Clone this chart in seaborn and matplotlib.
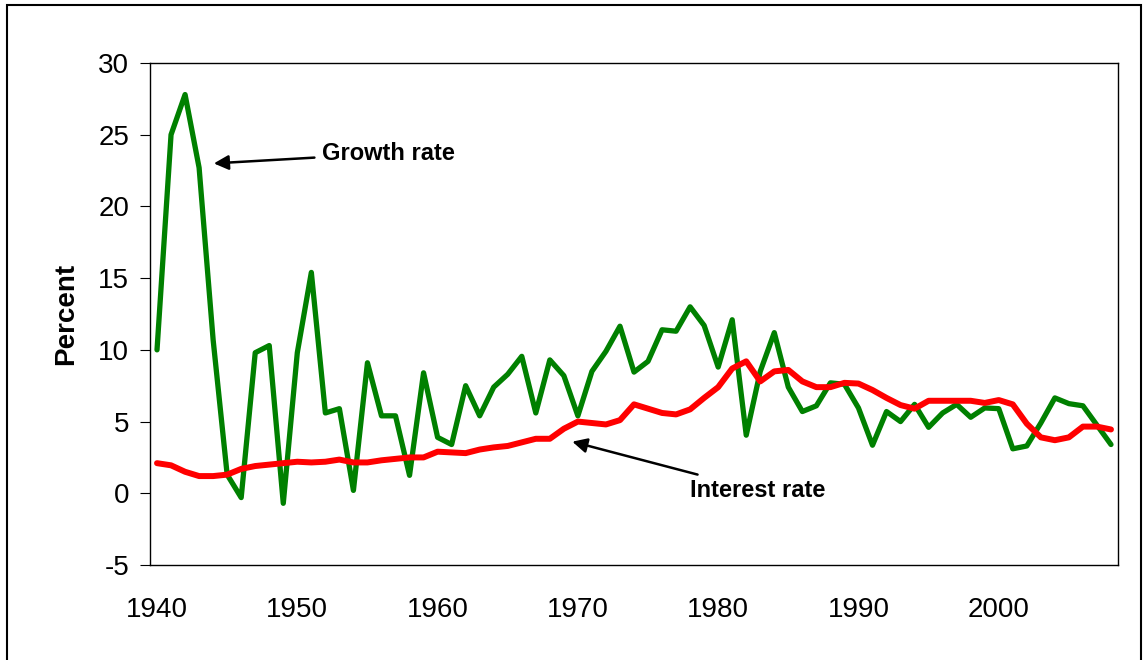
import matplotlib
matplotlib.use('Agg')
import matplotlib.pyplot as plt
import seaborn as sns
import pandas as pd
import numpy as np
from matplotlib.patches import Rectangle

years = list(range(1940, 2009))

growth_rate = [10.0, 25.0, 27.8, 22.7, 10.7, 1.3, -0.3, 9.8, 10.3, -0.7,
               9.8, 15.4, 5.6, 5.9, 0.2, 9.1, 5.4, 5.4, 1.25, 8.4,
               3.9, 3.4, 7.5, 5.4, 7.4, 8.3, 9.55, 5.6, 9.3, 8.2,
               5.4, 8.5, 9.9, 11.65, 8.45, 9.2, 11.4, 11.3, 13.0, 11.7,
               8.8, 12.1, 4.05, 8.5, 11.2, 7.4, 5.7, 6.1, 7.7, 7.6,
               5.95, 3.35, 5.7, 5.0, 6.2, 4.6, 5.6, 6.2, 5.3, 5.95,
               5.9, 3.1, 3.3, 4.9, 6.65, 6.25, 6.1, 4.75, 3.4]

interest_rate = [2.1, 1.95, 1.5, 1.2, 1.2, 1.3, 1.7, 1.9, 2.0, 2.1,
                 2.2, 2.15, 2.2, 2.35, 2.15, 2.15, 2.3, 2.4, 2.5, 2.5,
                 2.9, 2.85, 2.8, 3.05, 3.2, 3.3, 3.55, 3.8, 3.8, 4.5,
                 5.0, 4.9, 4.8, 5.1, 6.2, 5.9, 5.6, 5.5, 5.85, 6.65,
                 7.4, 8.7, 9.2, 7.8, 8.5, 8.6, 7.8, 7.4, 7.4, 7.7,
                 7.65, 7.2, 6.65, 6.15, 5.9, 6.45, 6.45, 6.45, 6.45, 6.3,
                 6.5, 6.2, 4.85, 3.9, 3.7, 3.9, 4.65, 4.65, 4.45]

decade_labels = ['1940', '1950', '1960', '1970', '1980', '1990', '2000']

df = pd.DataFrame({'Year': years, 'Growth': growth_rate, 'Interest': interest_rate})

sns.set_style('white')
plt.rcParams['font.family'] = ['Liberation Sans', 'DejaVu Sans']
plt.rcParams['axes.unicode_minus'] = False
plt.rcParams['text.color'] = 'black'
plt.rcParams['axes.labelcolor'] = 'black'
plt.rcParams['xtick.color'] = 'black'
plt.rcParams['ytick.color'] = 'black'

fig = plt.figure(figsize=(11.48, 6.6), dpi=100)
ax = fig.add_axes([150/1148, 1 - 565/660, 968/1148, 502/660])

sns.lineplot(data=df, x='Year', y='Growth', ax=ax, color='#008000', linewidth=3.8)
sns.lineplot(data=df, x='Year', y='Interest', ax=ax, color='#ff0000', linewidth=4.3,
             solid_joinstyle='round')

ax.set_xlim(1939.5, 2008.5)
ax.set_ylim(-5, 30)
ax.set_yticks(np.arange(-5, 31, 5))
ax.set_xticks([int(l) for l in decade_labels])
ax.set_xticklabels(decade_labels)
ax.set_xticks(np.arange(1939.5, 2009, 1), minor=True)
ax.tick_params(axis='x', which='major', length=0, pad=23, labelsize=20)
ax.tick_params(axis='x', which='minor', length=5, width=0.8, direction='out', color='#333333')
ax.tick_params(axis='y', which='major', length=7, width=0.8, direction='out', pad=8,
               labelsize=20, left=True)
ax.set_xlabel('')
ax.set_ylabel('Percent', fontsize=20, fontweight='bold', labelpad=14)
for s in ax.spines.values():
    s.set_color('black')
    s.set_linewidth(1.0)

ax.annotate('Growth rate', xy=(1944.05, 23.0), xytext=(1951.75, 23.7),
            fontsize=17, fontweight='bold', va='center', ha='left',
            arrowprops=dict(arrowstyle='-|>', color='black', lw=1.8,
                            mutation_scale=22, shrinkA=3, shrinkB=0))
ax.annotate('Interest rate', xy=(1969.6, 3.6), xytext=(1978.0, 0.2),
            fontsize=17, fontweight='bold', va='center', ha='left',
            arrowprops=dict(arrowstyle='-|>', color='black', lw=1.8,
                            mutation_scale=22, shrinkA=3, shrinkB=0))

fig.patches.append(Rectangle((7/1148, -0.02), 1134/1148, 1 - 5/660 + 0.02,
                             transform=fig.transFigure, fill=False,
                             edgecolor='black', linewidth=1.5))

plt.savefig('out.png', dpi=100)
